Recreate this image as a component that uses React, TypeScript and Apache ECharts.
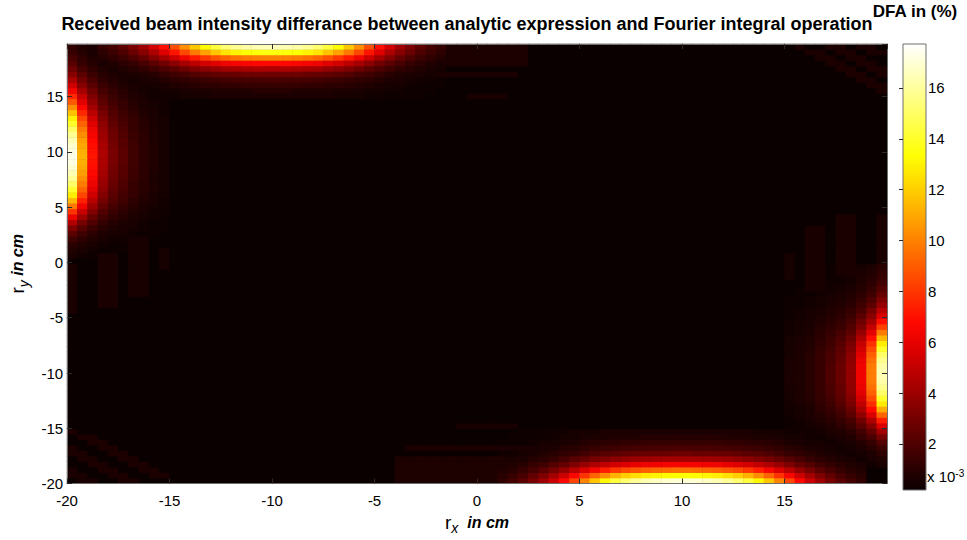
import React, { useEffect, useRef } from "react";
import * as echarts from "echarts";

// ---------------- DATA (values in units of 1e-3 %) ----------------
const TITLE = "Received beam intensity differance between analytic expression and Fourier integral operation";
const COLORBAR_TITLE = "DFA in (%)";
const CELL = 0.5; // grid step in cm
const X_FIRST = -19.75; // first cell centre
const N_CELLS = 80;
const colorbarTicks = [2, 4, 6, 8, 10, 12, 14, 16];
const colorbarMin = 0.19;
const colorbarMax = 17.73;

// each row: [y centre, first x centre, values at 0.5 cm steps]
type Row = [number, number, number[]];

const topLobe: Row[] = [
  [19.75, -18.25, [1.1,1.6,2.2,3,4,5.3,6.8,8.5,10.2,11.8,13.2,14.3,15.2,15.8,16.2,16.4,16.5,16.5,16.4,16.2,15.8,15.2,14.3,13.2,11.8,10.2,8.5,6.8,5.3,4,3,2.2,1.6,1.1]],
  [19.25, -18.25, [0.9,1.3,1.8,2.5,3.3,4.3,5.6,7,8.4,9.7,10.8,11.7,12.5,13,13.3,13.4,13.5,13.5,13.4,13.3,13,12.5,11.7,10.8,9.7,8.4,7,5.6,4.3,3.3,2.5,1.8,1.3,0.9]],
  [18.75, -18.25, [0.7,1,1.3,1.8,2.4,3.2,4.1,5.1,6.1,7.1,7.9,8.6,9.1,9.5,9.7,9.8,9.9,9.9,9.8,9.7,9.5,9.1,8.6,7.9,7.1,6.1,5.1,4.1,3.2,2.4,1.8,1.3,1,0.7]],
  [18.25, -18.25, [0.4,0.6,0.9,1.2,1.6,2.1,2.7,3.4,4.1,4.7,5.3,5.7,6.1,6.3,6.5,6.6,6.6,6.6,6.6,6.5,6.3,6.1,5.7,5.3,4.7,4.1,3.4,2.7,2.1,1.6,1.2,0.9,0.6,0.4]],
  [17.75, -18.25, [0.3,0.4,0.6,0.8,1,1.4,1.8,2.2,2.7,3.1,3.4,3.7,4,4.1,4.2,4.3,4.3,4.3,4.3,4.2,4.1,4,3.7,3.4,3.1,2.7,2.2,1.8,1.4,1,0.8,0.6,0.4,0.3]],
  [17.25, -18.25, [0.2,0.3,0.4,0.5,0.6,0.8,1.1,1.4,1.6,1.9,2.1,2.3,2.4,2.5,2.6,2.6,2.6,2.6,2.6,2.6,2.5,2.4,2.3,2.1,1.9,1.6,1.4,1.1,0.8,0.6,0.5,0.4,0.3,0.2]],
  [16.75, -18.25, [0.1,0.2,0.2,0.3,0.4,0.5,0.7,0.9,1,1.2,1.3,1.4,1.5,1.6,1.6,1.6,1.7,1.7,1.6,1.6,1.6,1.5,1.4,1.3,1.2,1,0.9,0.7,0.5,0.4,0.3,0.2,0.2,0.1]],
  [16.25, -18.25, [0.1,0.1,0.1,0.2,0.3,0.3,0.4,0.6,0.7,0.8,0.9,0.9,1,1,1.1,1.1,1.1,1.1,1.1,1.1,1,1,0.9,0.9,0.8,0.7,0.6,0.4,0.3,0.3,0.2,0.1,0.1,0.1]],
  [15.75, -18.25, [0,0.1,0.1,0.1,0.2,0.2,0.3,0.3,0.4,0.5,0.5,0.6,0.6,0.6,0.6,0.7,0.7,0.7,0.7,0.6,0.6,0.6,0.6,0.5,0.5,0.4,0.3,0.3,0.2,0.2,0.1,0.1,0.1,0]],
  [15.25, -18.25, [0,0,0.1,0.1,0.1,0.1,0.2,0.2,0.3,0.3,0.3,0.4,0.4,0.4,0.4,0.4,0.4,0.4,0.4,0.4,0.4,0.4,0.4,0.3,0.3,0.3,0.2,0.2,0.1,0.1,0.1,0.1,0,0]],
];

const bottomLobe: Row[] = [
  [-19.75, 1.25, [1,1.5,2.1,2.9,3.9,5.1,6.6,8.3,10,11.7,13.1,14.3,15.2,15.9,16.4,16.7,16.9,17,17,16.9,16.7,16.4,15.9,15.2,14.3,13.1,11.7,10,8.3,6.6,5.1,3.9,2.9,2.1,1.5,1]],
  [-19.25, 1.25, [0.8,1.2,1.6,2.3,3,4,5.1,6.5,7.8,9.1,10.2,11.2,11.9,12.4,12.8,13,13.2,13.3,13.3,13.2,13,12.8,12.4,11.9,11.2,10.2,9.1,7.8,6.5,5.1,4,3,2.3,1.6,1.2,0.8]],
  [-18.75, 1.25, [0.6,0.8,1.2,1.6,2.1,2.8,3.6,4.6,5.5,6.4,7.2,7.9,8.4,8.7,9,9.2,9.3,9.4,9.4,9.3,9.2,9,8.7,8.4,7.9,7.2,6.4,5.5,4.6,3.6,2.8,2.1,1.6,1.2,0.8,0.6]],
  [-18.25, 1.25, [0.4,0.6,0.8,1.1,1.4,1.9,2.4,3.1,3.7,4.3,4.8,5.3,5.6,5.9,6.1,6.2,6.3,6.3,6.3,6.3,6.2,6.1,5.9,5.6,5.3,4.8,4.3,3.7,3.1,2.4,1.9,1.4,1.1,0.8,0.6,0.4]],
  [-17.75, 1.25, [0.2,0.4,0.5,0.7,0.9,1.2,1.6,2,2.4,2.8,3.1,3.4,3.6,3.8,3.9,4,4.1,4.1,4.1,4.1,4,3.9,3.8,3.6,3.4,3.1,2.8,2.4,2,1.6,1.2,0.9,0.7,0.5,0.4,0.2]],
  [-17.25, 1.25, [0.2,0.2,0.3,0.4,0.6,0.8,1,1.2,1.5,1.8,2,2.1,2.3,2.4,2.5,2.5,2.5,2.6,2.6,2.5,2.5,2.5,2.4,2.3,2.1,2,1.8,1.5,1.2,1,0.8,0.6,0.4,0.3,0.2,0.2]],
  [-16.75, 1.25, [0.1,0.2,0.2,0.3,0.4,0.5,0.7,0.8,1,1.2,1.3,1.4,1.5,1.6,1.6,1.7,1.7,1.7,1.7,1.7,1.7,1.6,1.6,1.5,1.4,1.3,1.2,1,0.8,0.7,0.5,0.4,0.3,0.2,0.2,0.1]],
  [-16.25, 1.25, [0.1,0.1,0.1,0.2,0.3,0.3,0.4,0.5,0.7,0.8,0.9,0.9,1,1,1.1,1.1,1.1,1.1,1.1,1.1,1.1,1.1,1,1,0.9,0.9,0.8,0.7,0.5,0.4,0.3,0.3,0.2,0.1,0.1,0.1]],
  [-15.75, 1.25, [0,0.1,0.1,0.1,0.2,0.2,0.3,0.3,0.4,0.5,0.5,0.6,0.6,0.6,0.7,0.7,0.7,0.7,0.7,0.7,0.7,0.7,0.6,0.6,0.6,0.5,0.5,0.4,0.3,0.3,0.2,0.2,0.1,0.1,0.1,0]],
  [-15.25, 1.25, [0,0,0.1,0.1,0.1,0.2,0.2,0.3,0.3,0.3,0.4,0.4,0.4,0.4,0.4,0.4,0.4,0.4,0.4,0.4,0.4,0.4,0.4,0.4,0.4,0.3,0.3,0.3,0.2,0.2,0.1,0.1,0.1,0.1,0,0]],
];

const leftLobe: Row[] = [
  [19.75, -19.75, [1,0.6,0.4,0.2,0.2,0.1,0.1,0.1,0,0]],
  [19.25, -19.75, [1.2,0.7,0.4,0.3,0.2,0.1,0.1,0.1,0,0]],
  [18.75, -19.75, [1.6,1,0.6,0.4,0.2,0.2,0.1,0.1,0,0]],
  [18.25, -19.75, [2,1.2,0.7,0.4,0.3,0.2,0.2,0.1,0.1,0]],
  [17.75, -19.75, [2.6,1.6,1,0.6,0.4,0.3,0.2,0.1,0.1,0.1]],
  [17.25, -19.75, [3.3,2.1,1.3,0.8,0.5,0.4,0.3,0.2,0.1,0.1]],
  [16.75, -19.75, [4.2,2.7,1.7,1,0.7,0.5,0.3,0.2,0.1,0.1]],
  [16.25, -19.75, [5.2,3.3,2.1,1.3,0.9,0.6,0.4,0.3,0.2,0.1]],
  [15.75, -19.75, [6.3,4.1,2.6,1.6,1.1,0.8,0.5,0.3,0.2,0.1]],
  [15.25, -19.75, [7.5,4.9,3.1,1.9,1.3,0.9,0.6,0.4,0.2,0.2]],
  [14.75, -19.75, [8.8,5.7,3.6,2.2,1.5,1.1,0.7,0.5,0.3,0.2]],
  [14.25, -19.75, [10.2,6.6,4.1,2.5,1.7,1.2,0.8,0.5,0.3,0.2]],
  [13.75, -19.75, [11.6,7.5,4.7,2.9,1.9,1.4,1,0.6,0.4,0.2]],
  [13.25, -19.75, [12.9,8.4,5.2,3.2,2.1,1.5,1.1,0.7,0.4,0.3]],
  [12.75, -19.75, [14,9.1,5.7,3.5,2.3,1.7,1.2,0.8,0.5,0.3]],
  [12.25, -19.75, [15,9.7,6.1,3.7,2.5,1.8,1.2,0.8,0.5,0.3]],
  [11.75, -19.75, [15.8,10.2,6.4,3.9,2.6,1.9,1.3,0.9,0.5,0.3]],
  [11.25, -19.75, [16.4,10.6,6.6,4.1,2.7,2,1.3,0.9,0.5,0.3]],
  [10.75, -19.75, [16.9,10.9,6.8,4.2,2.8,2,1.4,0.9,0.6,0.3]],
  [10.25, -19.75, [17.2,11.1,6.9,4.3,2.9,2.1,1.4,0.9,0.6,0.3]],
  [9.75, -19.75, [17.3,11.2,7,4.3,2.9,2.1,1.4,0.9,0.6,0.3]],
  [9.25, -19.75, [17.2,11.1,6.9,4.3,2.9,2.1,1.4,0.9,0.6,0.3]],
  [8.75, -19.75, [16.9,10.9,6.8,4.2,2.8,2,1.4,0.9,0.6,0.3]],
  [8.25, -19.75, [16.4,10.6,6.6,4.1,2.7,2,1.3,0.9,0.5,0.3]],
  [7.75, -19.75, [15.8,10.2,6.4,3.9,2.6,1.9,1.3,0.9,0.5,0.3]],
  [7.25, -19.75, [15,9.7,6.1,3.7,2.5,1.8,1.2,0.8,0.5,0.3]],
  [6.75, -19.75, [14,9.1,5.7,3.5,2.3,1.7,1.2,0.8,0.5,0.3]],
  [6.25, -19.75, [12.8,8.3,5.2,3.2,2.1,1.5,1.1,0.7,0.4,0.3]],
  [5.75, -19.75, [11.3,7.3,4.6,2.8,1.9,1.4,0.9,0.6,0.4,0.2]],
  [5.25, -19.75, [9.6,6.2,3.9,2.4,1.6,1.2,0.8,0.5,0.3,0.2]],
  [4.75, -19.75, [7.8,5,3.2,1.9,1.3,0.9,0.6,0.4,0.2,0.2]],
  [4.25, -19.75, [6,3.9,2.4,1.5,1,0.7,0.5,0.3,0.2,0.1]],
  [3.75, -19.75, [4.4,2.8,1.8,1.1,0.7,0.5,0.4,0.2,0.1,0.1]],
  [3.25, -19.75, [3.1,2,1.3,0.8,0.5,0.4,0.3,0.2,0.1,0.1]],
  [2.75, -19.75, [2.1,1.4,0.9,0.5,0.4,0.3,0.2,0.1,0.1,0]],
  [2.25, -19.75, [1.4,0.9,0.6,0.4,0.2,0.2,0.1,0.1,0,0]],
  [1.75, -19.75, [0.9,0.6,0.4,0.2,0.1,0.1,0.1,0,0,0]],
  [1.25, -19.75, [0.6,0.4,0.2,0.1,0.1,0.1,0,0,0,0]],
  [0.75, -19.75, [0.4,0.2,0.1,0.1,0.1,0,0,0,0,0]],
];

const rightLobe: Row[] = [
  [-0.25, 15.25, [0,0,0,0.1,0.1,0.1,0.2,0.3,0.5,0.8]],
  [-0.75, 15.25, [0,0,0,0.1,0.1,0.1,0.2,0.4,0.6,1]],
  [-1.25, 15.25, [0,0,0.1,0.1,0.1,0.2,0.3,0.5,0.7,1.2]],
  [-1.75, 15.25, [0,0,0.1,0.1,0.2,0.2,0.3,0.6,0.9,1.5]],
  [-2.25, 15.25, [0,0.1,0.1,0.1,0.2,0.3,0.4,0.7,1.1,1.9]],
  [-2.75, 15.25, [0,0.1,0.1,0.2,0.3,0.4,0.6,0.9,1.4,2.4]],
  [-3.25, 15.25, [0.1,0.1,0.2,0.3,0.4,0.5,0.7,1.1,1.8,3]],
  [-3.75, 15.25, [0.1,0.1,0.2,0.3,0.5,0.6,0.9,1.4,2.2,3.7]],
  [-4.25, 15.25, [0.1,0.2,0.3,0.4,0.6,0.8,1.1,1.7,2.8,4.6]],
  [-4.75, 15.25, [0.1,0.2,0.3,0.5,0.7,0.9,1.3,2.1,3.4,5.6]],
  [-5.25, 15.25, [0.2,0.3,0.4,0.6,0.8,1.1,1.6,2.6,4.1,6.8]],
  [-5.75, 15.25, [0.2,0.3,0.4,0.7,1,1.3,1.9,3.1,4.9,8.2]],
  [-6.25, 15.25, [0.2,0.3,0.5,0.8,1.1,1.6,2.2,3.7,5.8,9.7]],
  [-6.75, 15.25, [0.3,0.4,0.6,0.9,1.3,1.8,2.6,4.3,6.8,11.3]],
  [-7.25, 15.25, [0.3,0.4,0.6,1,1.4,2,2.9,4.9,7.7,12.8]],
  [-7.75, 15.25, [0.3,0.5,0.7,1.1,1.5,2.2,3.2,5.3,8.4,14]],
  [-8.25, 15.25, [0.3,0.5,0.7,1.2,1.7,2.3,3.4,5.7,9,15]],
  [-8.75, 15.25, [0.4,0.5,0.8,1.2,1.7,2.4,3.5,6,9.4,15.7]],
  [-9.25, 15.25, [0.4,0.5,0.8,1.2,1.8,2.5,3.6,6.2,9.7,16.2]],
  [-9.75, 15.25, [0.4,0.5,0.8,1.2,1.8,2.5,3.6,6.2,9.8,16.4]],
  [-10.25, 15.25, [0.4,0.5,0.8,1.2,1.8,2.5,3.6,6.2,9.8,16.4]],
  [-10.75, 15.25, [0.4,0.5,0.8,1.2,1.8,2.5,3.6,6.2,9.7,16.2]],
  [-11.25, 15.25, [0.4,0.5,0.8,1.2,1.7,2.4,3.5,6,9.4,15.7]],
  [-11.75, 15.25, [0.3,0.5,0.7,1.2,1.7,2.3,3.4,5.7,9,15]],
  [-12.25, 15.25, [0.3,0.5,0.7,1.1,1.5,2.2,3.2,5.3,8.4,14]],
  [-12.75, 15.25, [0.3,0.4,0.6,1,1.4,2,2.9,4.8,7.6,12.7]],
  [-13.25, 15.25, [0.2,0.3,0.5,0.9,1.2,1.7,2.5,4.2,6.6,11]],
  [-13.75, 15.25, [0.2,0.3,0.5,0.7,1,1.4,2.1,3.5,5.5,9.1]],
  [-14.25, 15.25, [0.1,0.2,0.4,0.6,0.8,1.1,1.6,2.7,4.3,7.2]],
  [-14.75, 15.25, [0.1,0.2,0.3,0.4,0.6,0.9,1.3,2.1,3.3,5.5]],
  [-15.25, 15.25, [0.1,0.1,0.2,0.3,0.5,0.6,0.9,1.5,2.4,4]],
  [-15.75, 15.25, [0.1,0.1,0.1,0.2,0.3,0.4,0.6,1.1,1.7,2.8]],
  [-16.25, 15.25, [0,0.1,0.1,0.2,0.2,0.3,0.4,0.7,1.1,1.9]],
  [-16.75, 15.25, [0,0,0.1,0.1,0.1,0.2,0.3,0.5,0.8,1.3]],
  [-17.25, 15.25, [0,0,0,0.1,0.1,0.1,0.2,0.3,0.5,0.9]],
  [-17.75, 15.25, [0,0,0,0,0.1,0.1,0.1,0.2,0.4,0.6]],
  [-18.25, 15.25, [0,0,0,0,0,0.1,0.1,0.2,0.2,0.4]],
];

// faint ripple patches: [x from, x to, y from, y to, value]
type Patch = [number, number, number, number, number];
const ripples: Patch[] = [
  [-19.75, -19.75, -4.25, -0.25, 0.42],
  [-18.25, -17.75, -3.75, 0.75, 0.42],
  [-16.75, -16.25, -2.75, 2.25, 0.38],
  [-15.25, -15.25, -0.25, 1.25, 0.32],
  [15.25, 15.25, -1.25, 0.75, 0.32],
  [16.25, 16.75, -2.25, 3.25, 0.38],
  [17.75, 18.25, -0.75, 4.25, 0.42],
  [19.75, 19.75, 0.25, 4.25, 0.42],
  [-19.75, -19.75, -15.25, -15.25, 0.45],
  [-19.25, -18.75, -15.75, -15.75, 0.45],
  [-18.75, -18.25, -16.25, -16.25, 0.45],
  [-18.25, -17.75, -16.75, -16.75, 0.45],
  [-17.75, -17.25, -17.25, -17.25, 0.45],
  [-17.25, -16.75, -17.75, -17.75, 0.45],
  [-16.75, -16.25, -18.25, -18.25, 0.45],
  [-16.25, -15.75, -18.75, -18.75, 0.45],
  [-15.75, -15.25, -19.25, -19.25, 0.45],
  [-19.75, -19.75, -16.75, -16.75, 0.45],
  [-19.75, -19.25, -17.25, -17.25, 0.45],
  [-19.25, -18.75, -17.75, -17.75, 0.45],
  [-18.75, -18.25, -18.25, -18.25, 0.45],
  [-18.25, -17.75, -18.75, -18.75, 0.45],
  [-17.75, -17.25, -19.25, -19.25, 0.45],
  [-17.25, -16.75, -19.75, -19.75, 0.45],
  [-19.75, -19.75, -18.75, -18.75, 0.4],
  [-19.75, -19.25, -19.25, -19.25, 0.4],
  [-19.25, -18.75, -19.75, -19.75, 0.4],
  [15.75, 15.75, 19.75, 19.75, 0.45],
  [16.25, 16.75, 19.25, 19.25, 0.45],
  [16.75, 17.25, 18.75, 18.75, 0.45],
  [17.25, 17.75, 18.25, 18.25, 0.45],
  [17.75, 18.25, 17.75, 17.75, 0.45],
  [18.25, 18.75, 17.25, 17.25, 0.45],
  [18.75, 19.25, 16.75, 16.75, 0.45],
  [19.25, 19.75, 16.25, 16.25, 0.45],
  [19.75, 19.75, 15.75, 15.75, 0.45],
  [17.25, 17.75, 19.75, 19.75, 0.45],
  [17.75, 18.25, 19.25, 19.25, 0.45],
  [18.25, 18.75, 18.75, 18.75, 0.45],
  [18.75, 19.25, 18.25, 18.25, 0.45],
  [19.25, 19.75, 17.75, 17.75, 0.45],
  [19.75, 19.75, 17.25, 17.25, 0.45],
  [18.75, 19.25, 19.75, 19.75, 0.4],
  [19.25, 19.75, 19.25, 19.25, 0.4],
  [-1.25, 2.25, 18.25, 19.75, 0.45],
  [-1.75, 1.75, 17.25, 17.25, 0.4],
  [-0.25, 1.25, 15.25, 15.25, 0.35],
  [-3.75, 1.25, -19.75, -17.75, 0.5],
  [-3.25, 2.75, -16.75, -16.75, 0.4],
  [-0.75, 1.75, -14.75, -14.75, 0.35],
];

// MATLAB "hot" colormap sampled at 17 evenly spaced stops
const hotColors = [
  "#0b0000", "#340000", "#5e0000", "#880000", "#b20000", "#dc0000",
  "#ff0700", "#ff3100", "#ff5a00", "#ff8400", "#ffae00", "#ffd800",
  "#ffff04", "#ffff43", "#ffff82", "#ffffc0", "#ffffff",
];

// ---------------- build table ----------------
const centres = Array.from({ length: N_CELLS }, (_, i) => (X_FIRST + i * CELL).toFixed(2));
const toIndex = (v: number) => Math.round((v - X_FIRST) / CELL);

function buildCells(): [number, number, number][] {
  const table: number[][] = Array.from({ length: N_CELLS }, () => new Array(N_CELLS).fill(0));
  const setCell = (yi: number, xi: number, v: number) => {
    if (yi < 0 || yi >= N_CELLS || xi < 0 || xi >= N_CELLS) return;
    table[yi][xi] = Math.max(table[yi][xi], v);
  };
  [topLobe, bottomLobe, leftLobe, rightLobe].forEach((rows) =>
    rows.forEach(([y, x0, vals]) => {
      const yi = toIndex(y);
      const xi0 = toIndex(x0);
      vals.forEach((v, k) => setCell(yi, xi0 + k, v));
    })
  );
  ripples.forEach(([xa, xb, ya, yb, v]) => {
    for (let yi = toIndex(ya); yi <= toIndex(yb); yi++)
      for (let xi = toIndex(xa); xi <= toIndex(xb); xi++) setCell(yi, xi, v);
  });
  const out: [number, number, number][] = [];
  for (let yi = 0; yi < N_CELLS; yi++)
    for (let xi = 0; xi < N_CELLS; xi++) out.push([xi, yi, table[yi][xi]]);
  return out;
}

const FONT = "'Liberation Sans', Arial, Helvetica, sans-serif";
const FRAME = "#6e6e6e";
const TICK = "#2a2a2a";

export default function App() {
  const ref = useRef<HTMLDivElement>(null);
  useEffect(() => {
    document.body.style.margin = "0";
    if (!ref.current) return;
    const chart = echarts.init(ref.current, undefined, { renderer: "svg" });
    const cells = buildCells();
    const gradStops = hotColors.map((c, i) => ({ offset: i / (hotColors.length - 1), color: c }));

    const valueAxisCommon = {
      type: "value",
      gridIndex: 0,
      z: 5,
      splitLine: { show: false },
      axisLine: { show: true, onZero: false, lineStyle: { color: FRAME, width: 1 } },
      axisTick: { show: true, inside: true, length: 5, lineStyle: { color: TICK } },
    };

    const nameRich = {
      r: { fontSize: 19, fontFamily: FONT, color: "#000", lineHeight: 26, verticalAlign: "middle" },
      s: { fontSize: 14, fontFamily: FONT, fontStyle: "italic", color: "#000", lineHeight: 12, verticalAlign: "bottom" },
      t: { fontSize: 16, fontFamily: FONT, fontStyle: "italic", fontWeight: "bold", color: "#000", lineHeight: 26, verticalAlign: "middle" },
    };

    const option: any = {
      animation: false,
      backgroundColor: "#ffffff",
      grid: [
        { left: 65, top: 44, width: 822, height: 445, containLabel: false, show: true, backgroundColor: hotColors[0], borderWidth: 0 },
        { left: 903, top: 44, width: 23, height: 446, containLabel: false },
      ],
      xAxis: [
        { type: "category", gridIndex: 0, data: centres, show: false, position: "bottom" },
        {
          ...valueAxisCommon,
          position: "bottom",
          min: -20,
          max: 20,
          interval: 5,
          axisLabel: { fontSize: 15, fontFamily: FONT, color: "#000", margin: 9, showMaxLabel: false },
          name: "{r|r}{s|x}{t|  in cm}",
          nameLocation: "middle",
          nameGap: 19,
          nameTextStyle: { rich: nameRich },
        },
        {
          ...valueAxisCommon,
          position: "top",
          min: -20,
          max: 20,
          interval: 5,
          axisLabel: { show: false },
        },
        { type: "value", gridIndex: 1, show: false, min: 0, max: 1 },
      ],
      yAxis: [
        { type: "category", gridIndex: 0, data: centres, show: false, position: "left" },
        {
          ...valueAxisCommon,
          position: "left",
          min: -20,
          max: 19.75,
          interval: 5,
          axisLabel: { fontSize: 15, fontFamily: FONT, color: "#000", margin: 4, showMaxLabel: false },
          name: "{r|r}{s|y}{t| in cm}",
          nameLocation: "middle",
          nameRotate: 90,
          nameGap: 32,
          nameTextStyle: { rich: nameRich },
        },
        {
          ...valueAxisCommon,
          position: "right",
          min: -20,
          max: 19.75,
          interval: 5,
          axisLabel: { show: false },
        },
        {
          type: "value",
          gridIndex: 1,
          position: "right",
          min: colorbarMin,
          max: colorbarMax,
          z: 10,
          splitLine: { show: false },
          axisLine: { show: false },
          axisTick: { show: true, inside: true, length: 4, customValues: colorbarTicks, lineStyle: { color: TICK } },
          axisLabel: { fontSize: 15, fontFamily: FONT, color: "#000", margin: 2, customValues: colorbarTicks },
        },
      ],
      visualMap: {
        type: "continuous",
        show: false,
        seriesIndex: 0,
        dimension: 2,
        min: 0,
        max: colorbarMax,
        inRange: { color: hotColors },
      },
      series: [
        {
          type: "heatmap",
          xAxisIndex: 0,
          yAxisIndex: 0,
          data: cells,
          progressive: 0,
          itemStyle: { borderWidth: 0 },
          emphasis: { disabled: true },
          silent: true,
        },
      ],
      graphic: [
        {
          type: "rect",
          z: 1,
          shape: { x: 903, y: 44, width: 23, height: 446 },
          style: { fill: new echarts.graphic.LinearGradient(0, 1, 0, 0, gradStops), stroke: FRAME, lineWidth: 1 },
        },
        {
          type: "text",
          x: 467,
          y: 24,
          style: { text: TITLE, fontSize: 18, fontWeight: "bold", fontFamily: FONT, fill: "#000", align: "center", verticalAlign: "middle" },
        },
        {
          type: "text",
          x: 915,
          y: 11,
          style: { text: COLORBAR_TITLE, fontSize: 17, fontWeight: "bold", fontFamily: FONT, fill: "#000", align: "center", verticalAlign: "middle" },
        },
        {
          type: "text",
          x: 927,
          y: 476,
          style: {
            text: "{a|x 10}{b|-3}",
            align: "left",
            verticalAlign: "middle",
            rich: {
              a: { fontSize: 15, fontFamily: FONT, fill: "#000", color: "#000", lineHeight: 16, verticalAlign: "bottom" },
              b: { fontSize: 10, fontFamily: FONT, fill: "#000", color: "#000", lineHeight: 10, verticalAlign: "top" },
            },
          },
        },
      ],
    };
    chart.setOption(option);
    return () => chart.dispose();
  }, []);
  return <div ref={ref} style={{ width: 967, height: 540 }} />;
}
